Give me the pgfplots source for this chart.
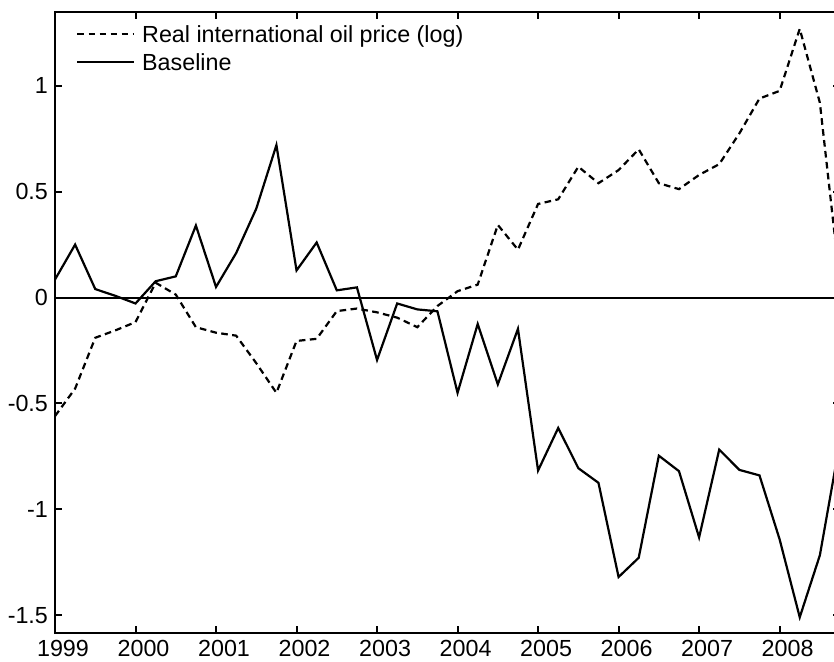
\documentclass[border=0pt]{standalone}
\usepackage{fontspec}
\setmainfont{Liberation Sans}
\usepackage{pgfplots}
\pgfplotsset{compat=1.18}
\begin{document}
\begin{tikzpicture}
\begin{axis}[
  name=ax,
  scale only axis,
  width=392.5pt, height=310.5pt,
  xmin=1999, xmax=2008.75,
  ymin=-1.583, ymax=1.35,
  axis background/.style={draw=black, line width=1.1pt},
  axis line style={draw=black, line width=1.1pt},
  tick style={draw=black, line width=1pt},
  tick align=inside,
  major tick length=3.5pt,
  xtick={1999,2000,2001,2002,2003,2004,2005,2006,2007,2008},
  xticklabels={1999,2000,2001,2002,2003,2004,2005,2006,2007,2008},
  ytick={-1.5,-1,-0.5,0,0.5,1},
  yticklabels={-1.5,-1,-0.5,0,0.5,1},
  tick label style={font=\fontsize{11.65}{14}\selectfont},
  xticklabel style={xshift=4pt},
  legend style={draw=none, fill=none, at={(0,1)}, anchor=north west,
    xshift=10.5pt, yshift=-3.7pt, inner sep=0pt, row sep=0pt,
    font=\fontsize{11.65}{14}\selectfont,
    nodes={inner sep=0pt, text height=11.27pt, text depth=2.93pt},
    column sep=3.8pt},
  legend cell align=left,
  legend image code/.code={\draw[#1] (0pt,0pt) -- (28pt,0pt);},
]
\addplot[black, line width=1pt, forget plot] coordinates {(1999,0) (2008.75,0)};
\addplot[black, line width=1.1pt, dash pattern=on 3.3pt off 2.2pt] coordinates {
(1999.00,-0.56) (1999.25,-0.43) (1999.50,-0.19) (1999.75,-0.155)
(2000.00,-0.116) (2000.25,0.07) (2000.50,0.014) (2000.75,-0.14)
(2001.00,-0.166) (2001.25,-0.18) (2001.50,-0.31) (2001.75,-0.45)
(2002.00,-0.205) (2002.25,-0.195) (2002.50,-0.064) (2002.75,-0.052)
(2003.00,-0.07) (2003.25,-0.095) (2003.50,-0.14) (2003.75,-0.04)
(2004.00,0.03) (2004.25,0.061) (2004.50,0.343) (2004.75,0.226)
(2005.00,0.442) (2005.25,0.464) (2005.50,0.618) (2005.75,0.54)
(2006.00,0.602) (2006.25,0.70) (2006.50,0.54) (2006.75,0.512)
(2007.00,0.579) (2007.25,0.63) (2007.50,0.775) (2007.75,0.94)
(2008.00,0.976) (2008.25,1.269) (2008.50,0.92) (2008.75,0.07)
};
\addlegendentry{Real international oil price (log)}
\addplot[black, line width=1.1pt] coordinates {
(1999.00,0.085) (1999.25,0.25) (1999.50,0.04) (1999.75,0.008)
(2000.00,-0.028) (2000.25,0.077) (2000.50,0.10) (2000.75,0.34)
(2001.00,0.05) (2001.25,0.21) (2001.50,0.42) (2001.75,0.72)
(2002.00,0.128) (2002.25,0.26) (2002.50,0.034) (2002.75,0.048)
(2003.00,-0.295) (2003.25,-0.028) (2003.50,-0.056) (2003.75,-0.065)
(2004.00,-0.45) (2004.25,-0.125) (2004.50,-0.41) (2004.75,-0.148)
(2005.00,-0.817) (2005.25,-0.616) (2005.50,-0.806) (2005.75,-0.875)
(2006.00,-1.32) (2006.25,-1.229) (2006.50,-0.747) (2006.75,-0.82)
(2007.00,-1.133) (2007.25,-0.718) (2007.50,-0.814) (2007.75,-0.84)
(2008.00,-1.142) (2008.25,-1.51) (2008.50,-1.217) (2008.75,-0.68)
};
\addlegendentry{Baseline}
\end{axis}
\pgfresetboundingbox
\path[use as bounding box] ([shift={(-27.5pt,-14.15pt)}]ax.south west) rectangle ([shift={(389.5pt,316.35pt)}]ax.south west);
\end{tikzpicture}
\end{document}
